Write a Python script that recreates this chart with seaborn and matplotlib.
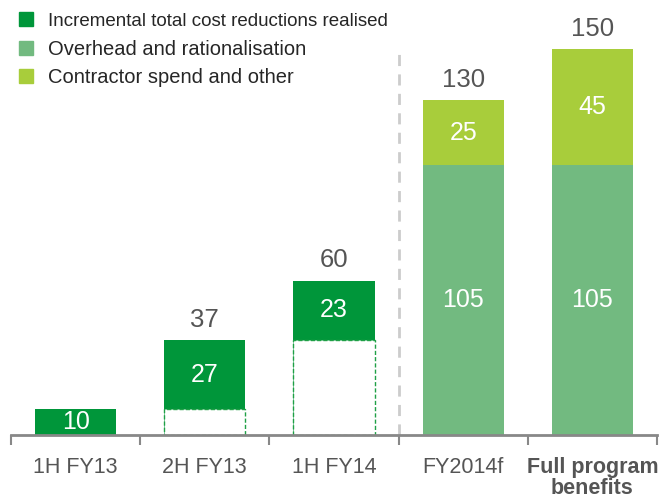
import pandas as pd
import matplotlib.pyplot as plt
import seaborn as sns
from matplotlib.lines import Line2D

# datos
categorias = ["1H FY13", "2H FY13", "1H FY14", "FY2014f", "Full program\nbenefits"]
incremental = [10, 27, 23, 0, 0]
previo = [0, 10, 37, 0, 0]
overhead = [0, 0, 0, 105, 105]
contractor = [0, 0, 0, 25, 45]
totales = [None, 37, 60, 130, 150]

VERDE_OSCURO = "#00963A"
VERDE_MEDIO = "#72BA80"
VERDE_CLARO = "#A8CD3B"
GRIS = "#555555"

sns.set_style("white")
plt.rcParams["font.family"] = ["Liberation Sans", "DejaVu Sans"]

df = pd.DataFrame({
    "cat": categorias,
    "previo": previo,
    "top_inc": [p + i for p, i in zip(previo, incremental)],
    "overhead": overhead,
    "top_fy": [o + c for o, c in zip(overhead, contractor)],
})

fig = plt.figure(figsize=(6.59, 4.97), dpi=100)
ax = fig.add_axes([11 / 659, 62 / 497, 646 / 659, 435 / 497])

ancho = 0.63
# barras de atras hacia adelante (estilo apilado)
sns.barplot(data=df, x="cat", y="top_inc", color=VERDE_OSCURO, width=ancho,
            saturation=1, ax=ax, linewidth=0)
sns.barplot(data=df, x="cat", y="previo", color="white", width=ancho,
            saturation=1, ax=ax, edgecolor="#1FA046", linewidth=1, linestyle=(0, (3, 1.5)))
sns.barplot(data=df, x="cat", y="top_fy", color=VERDE_CLARO, width=ancho,
            saturation=1, ax=ax, linewidth=0)
sns.barplot(data=df, x="cat", y="overhead", color=VERDE_MEDIO, width=ancho,
            saturation=1, ax=ax, linewidth=0)

ax.set_xlim(-0.5, 4.5)
ax.set_ylim(0, 169)
ax.set_xlabel("")
ax.set_ylabel("")
ax.set_yticks([])
for s in ["top", "right", "left"]:
    ax.spines[s].set_visible(False)
ax.spines["bottom"].set_color("#888888")
ax.spines["bottom"].set_linewidth(2)
ax.spines["bottom"].set_zorder(5)

ax.set_xticks(range(5))
ax.set_xticklabels(categorias)
ax.set_xticks([i - 0.5 for i in range(6)], minor=True)
ax.tick_params(axis="x", which="major", bottom=False, pad=12, labelsize=15.5, labelcolor=GRIS)
ax.tick_params(axis="x", which="minor", bottom=True, length=7, width=1.5,
               color="#888888", direction="out")
etq = ax.get_xticklabels()
etq[4].set_fontweight("bold")
etq[4].set_linespacing(1.0)

# separador vertical
ax.axvline(2.5, ymin=0, ymax=(435 - 50) / 435, color="#cccccc", linestyle=(0, (4, 3)),
           linewidth=2, zorder=0)

# etiquetas internas
for i in range(5):
    if incremental[i]:
        ax.text(i, previo[i] + incremental[i] / 2, str(incremental[i]), ha="center",
                va="center", color="white", fontsize=18)
    if overhead[i]:
        ax.text(i, overhead[i] / 2, str(overhead[i]), ha="center", va="center",
                color="white", fontsize=18)
        ax.text(i, overhead[i] + contractor[i] / 2, str(contractor[i]), ha="center",
                va="center", color="white", fontsize=18)
    if totales[i]:
        ax.text(i, totales[i] + 7.8, str(totales[i]), ha="center", va="center",
                color=GRIS, fontsize=18.5)

# leyenda
handles = [Line2D([], [], marker="s", linestyle="", markersize=9.5, color=c)
           for c in [VERDE_OSCURO, VERDE_MEDIO, VERDE_CLARO]]
labels = ["Incremental total cost reductions realised", "Overhead and rationalisation",
          "Contractor spend and other"]
leg = fig.legend(handles, labels, loc="upper left", bbox_to_anchor=(0.012, 0.992),
                 frameon=False, fontsize=14.5, handletextpad=0.6, labelspacing=0.48,
                 handlelength=1.0, borderaxespad=0)
leg.get_texts()[0].set_fontsize(13.5)

fig.savefig("out.png", dpi=100)
